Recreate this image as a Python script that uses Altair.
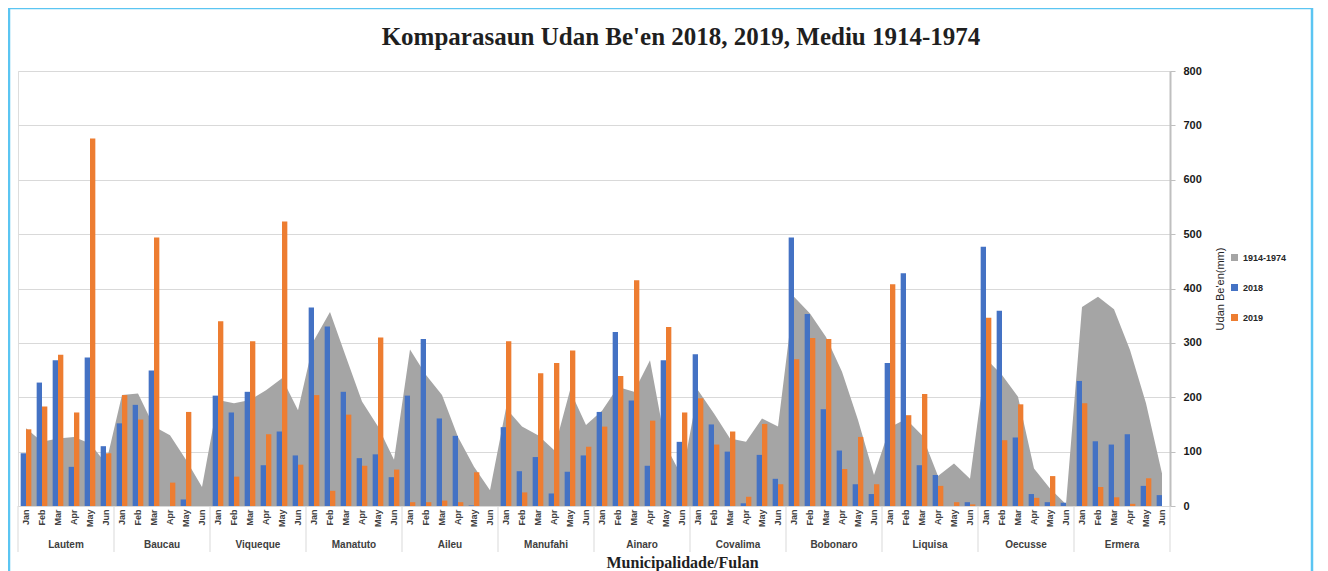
import altair as alt
import pandas as pd

munis = ["Lautem", "Baucau", "Viqueque", "Manatuto", "Aileu", "Manufahi",
         "Ainaro", "Covalima", "Bobonaro", "Liquisa", "Oecusse", "Ermera"]
months = ["Jan", "Feb", "Mar", "Apr", "May", "Jun"]

mean_1914_1974 = [
    143, 118, 124, 127, 115, 78,     # Lautem
    204, 207, 146, 130, 85, 35,      # Baucau
    195, 189, 195, 213, 235, 176,    # Viqueque
    305, 357, 274, 192, 146, 85,     # Manatuto
    288, 241, 204, 127, 72, 29,      # Aileu
    180, 146, 130, 103, 213, 149,    # Manufahi
    175, 219, 210, 268, 110, 54,     # Ainaro
    213, 170, 124, 118, 161, 146,    # Covalima
    385, 354, 311, 247, 158, 57,     # Bobonaro
    145, 160, 130, 55, 78, 50,       # Liquisa
    271, 241, 201, 69, 32, 3,        # Oecusse
    366, 385, 362, 287, 189, 60,     # Ermera
]
rain_2018 = [
    97, 227, 268, 72, 273, 110,
    152, 186, 249, 0, 12, 0,
    203, 172, 210, 75, 137, 93,
    365, 330, 210, 88, 95, 53,
    203, 307, 161, 129, 1, 0,
    145, 64, 90, 23, 63, 93,
    173, 320, 194, 74, 268, 118,
    279, 150, 100, 5, 94, 50,
    494, 353, 178, 102, 40, 22,
    263, 428, 75, 57, 0, 7,
    477, 359, 126, 22, 7, 6,
    230, 119, 113, 132, 37, 20,
]
rain_2019 = [
    141, 183, 278, 172, 676, 97,
    204, 159, 494, 43, 173, 0,
    340, 54, 303, 132, 523, 76,
    204, 28, 168, 74, 310, 67,
    7, 7, 10, 7, 62, 0,
    303, 25, 244, 263, 286, 109,
    146, 239, 415, 157, 329, 172,
    198, 113, 137, 17, 151, 40,
    270, 309, 307, 68, 127, 40,
    408, 167, 206, 37, 7, 3,
    346, 121, 187, 15, 55, 0,
    189, 35, 16, 4, 51, 0,
]
series_names = ["1914-1974", "2018", "2019"]
series_colors = ["#A5A5A5", "#4472C4", "#ED7D31"]
chart_title = "Komparasaun Udan Be'en 2018, 2019, Mediu 1914-1974"

keys = [f"{m}|{mo}" for m in munis for mo in months]
rows = []
for i, k in enumerate(keys):
    rows.append({"key": k, "series": "1914-1974", "value": mean_1914_1974[i]})
    rows.append({"key": k, "series": "2018", "value": rain_2018[i]})
    rows.append({"key": k, "series": "2019", "value": rain_2019[i]})
df = pd.DataFrame(rows)

groups_df = pd.DataFrame({"key": [f"{m}|Mar" for m in munis], "label": munis})
sep_df = pd.DataFrame({"key": [f"{m}|Jan" for m in munis]})
end_df = pd.DataFrame({"key": [keys[-1]]})
one_df = pd.DataFrame({"t": [chart_title]})

W, H = 1152, 435
SANS = "Liberation Sans"
SERIF = "Liberation Serif"

x_axis = alt.Axis(
    title="Municipalidade/Fulan",
    labelExpr="split(datum.value, '|')[1]",
    labelAngle=270, labelFontSize=9, labelFont=SANS, labelFontWeight="bold",
    labelColor="#404040", labelPadding=3, labelOverlap=False,
    ticks=False, domain=False, grid=False,
    titleFont=SERIF, titleFontSize=16, titleFontWeight="bold", titleColor="#1f1f1f",
    titleX=664, titleY=61, titleAlign="center", titleBaseline="alphabetic",
)
x_scale = alt.Scale(domain=keys, paddingInner=0, paddingOuter=0)


def xenc(bp=None):
    if bp is None:
        return alt.X("key:N", scale=x_scale, axis=x_axis)
    return alt.X("key:N", scale=x_scale, axis=x_axis, bandPosition=bp)


y_enc = alt.Y(
    "value:Q",
    scale=alt.Scale(domain=[0, 800], nice=False),
    axis=alt.Axis(
        orient="right", values=list(range(0, 801, 100)),
        title="Udan Be'en(mm)", titleAngle=270, titleFont=SANS, titleFontSize=11,
        titleFontWeight="normal", titleColor="#262626", titlePadding=24,
        grid=True, gridColor="#D9D9D9", gridWidth=1,
        domainColor="#BFBFBF", domainWidth=2, tickColor="#BFBFBF", tickSize=5,
        labelPadding=8, labelFont=SANS, labelFontSize=11, labelFontWeight="bold",
        labelColor="#1a1a1a",
    ),
)

color = alt.Color(
    "series:N",
    scale=alt.Scale(domain=series_names, range=series_colors),
    legend=alt.Legend(
        title=None, orient="none", legendX=1212, legendY=182,
        symbolType="square", symbolSize=49, symbolStrokeWidth=0,
        labelFont=SANS, labelFontSize=9, labelFontWeight="bold", labelColor="#262626",
        rowPadding=20,
    ),
)

area = alt.Chart(df).transform_filter(
    alt.datum.series == "1914-1974"
).mark_area(opacity=1).encode(x=xenc(), y=y_enc, color=color)

bars = alt.Chart(df).transform_filter(
    alt.datum.series != "1914-1974"
).mark_bar().encode(
    x=xenc(), y=y_enc, color=color,
    xOffset=alt.XOffset("series:N", scale=alt.Scale(domain=["2018", "2019"], paddingOuter=0.5, paddingInner=0)),
)

group_text = alt.Chart(groups_df).mark_text(
    font=SANS, fontSize=10, fontWeight="bold", color="#404040", baseline="middle"
).encode(x=xenc(1), y=alt.value(H + 39), text="label:N")

seps = alt.Chart(sep_df).mark_rule(color="#D9D9D9", strokeWidth=1).encode(
    x=xenc(0), y=alt.value(H), y2=alt.value(H + 46)
)
end_sep = alt.Chart(end_df).mark_rule(color="#D9D9D9", strokeWidth=1).encode(
    x=xenc(1), y=alt.value(H), y2=alt.value(H + 46)
)

title_text = alt.Chart(one_df).mark_text(
    font=SERIF, fontSize=25, fontWeight="bold", color="#1f1f1f",
    align="center", baseline="alphabetic",
).encode(x=alt.value(663), y=alt.value(-26), text="t:N")

border_color = "#5BC5F2"
b_left = alt.Chart(one_df).mark_rule(color=border_color, strokeWidth=2.5).encode(
    x=alt.value(-9), y=alt.value(-63), y2=alt.value(H + 80))
b_top = alt.Chart(one_df).mark_rule(color=border_color, strokeWidth=2.5).encode(
    x=alt.value(-9), x2=alt.value(1294), y=alt.value(-63))
b_right = alt.Chart(one_df).mark_rule(color=border_color, strokeWidth=2.5).encode(
    x=alt.value(1294), y=alt.value(-63), y2=alt.value(H + 80))

chart = alt.layer(area, bars, seps, end_sep, group_text, title_text, b_left, b_top, b_right).properties(
    width=W, height=H,
    autosize=alt.AutoSizeParams(type="none"),
    padding={"left": 10, "top": 63, "right": 150, "bottom": 65},
).configure_view(stroke=None).configure(background="white")

chart.save("out.html", embed_options={"renderer": "svg", "actions": False})
